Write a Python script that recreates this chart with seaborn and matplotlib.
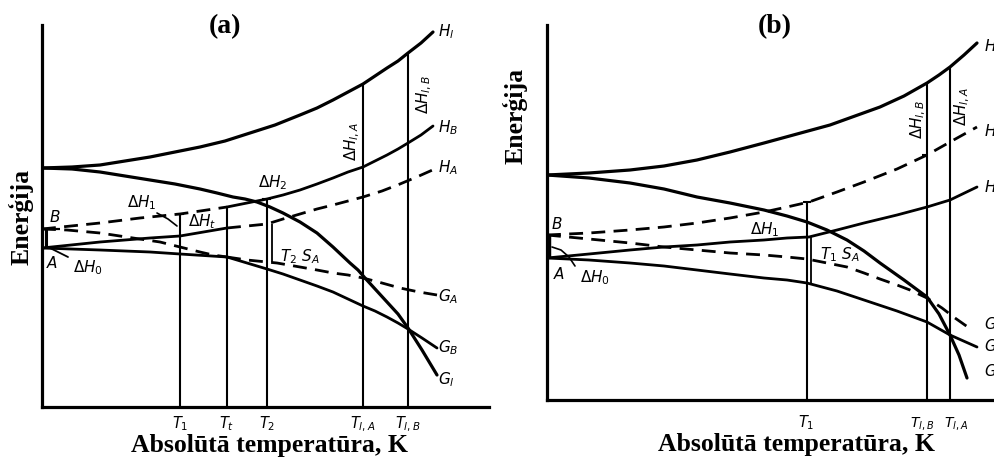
import numpy as np
import matplotlib
matplotlib.use("Agg")
import matplotlib.pyplot as plt
import seaborn as sns

sns.set_theme(style="white")
plt.rcParams["font.family"] = ["DejaVu Sans"]
plt.rcParams["mathtext.fontset"] = "dejavusans"
plt.rcParams["text.color"] = "black"

# ---------------- panel (a): enantiotropic pair A / B ----------------
a_HL_T = [0, 30, 58, 83, 108, 133, 158, 183, 208, 233, 258, 275, 291, 306,
          321, 333, 345, 356, 366, 379, 391]
a_HL_E = [239, 240, 242, 246, 250, 255, 260, 266, 274, 282, 292, 299, 307, 315,
          323, 331, 339, 346, 354, 364, 375]
a_GL_T = [0, 30, 58, 83, 108, 133, 158, 175, 191, 203, 215, 228, 241, 258, 275,
          291, 308, 316, 323, 334, 345, 356, 366, 380, 395]
a_GL_E = [239, 238, 235, 231, 227, 223, 218, 214, 210, 208, 205, 200, 194, 185, 174,
          160, 144, 137, 129, 117, 105, 93, 79, 57, 32]
# enthalpies (solid where the form is stable, dashed where metastable)
a_HB_low_T = [0, 58, 98, 138, 185]
a_HB_low_E = [178, 184, 189, 193, 200]
a_HB_high_T = [185, 205, 225, 241, 258, 275, 291, 306, 321, 333, 345, 356, 366, 379, 391]
a_HB_high_E = [200, 204, 208, 212, 217, 223, 229, 235, 240, 246, 252, 258, 264, 272, 281]
a_HA_low_T = [0, 58, 108, 138, 185]
a_HA_low_E = [159, 165, 169, 171, 179]
a_HA_high_T = [185, 205, 225, 241, 258, 275, 291, 306, 321, 340, 358, 377, 395]
a_HA_high_E = [179, 181, 183, 188, 193, 198, 202, 206, 210, 216, 223, 231, 239]
# free energies
a_GA_low_T = [0, 58, 108, 138, 185]
a_GA_low_E = [159, 157, 155, 153, 150]
a_GA_high_T = [185, 205, 225, 235, 258, 275, 291, 306, 321, 340, 358, 377, 395]
a_GA_high_E = [150, 147, 145, 144, 140, 137, 134, 132, 129, 124, 119, 115, 112]
a_GB_low_T = [0, 25, 58, 91, 118, 138, 158, 171, 185]
a_GB_low_E = [178, 177, 174, 169, 165, 160, 155, 152, 150]
a_GB_high_T = [185, 205, 225, 241, 258, 275, 291, 306, 321, 333, 345, 356, 366, 380, 395]
a_GB_high_E = [150, 144, 138, 133, 127, 121, 115, 108, 101, 96, 90, 84, 78, 69, 59]
# characteristic temperatures
a_temps = [138, 185, 225, 321, 366]
a_temp_labels = [r"$T_1$", r"$T_t$", r"$T_2$", r"$T_{l,A}$", r"$T_{l,B}$"]

# ---------------- panel (b): monotropic pair A / B ----------------
b_HL_T = [0, 42, 83, 117, 150, 183, 217, 250, 283, 308, 333, 357, 380, 392, 403, 417, 430]
b_HL_E = [225, 227, 230, 234, 240, 248, 257, 266, 275, 284, 293, 304, 317, 325, 333, 345, 357]
b_GL_T = [0, 42, 83, 117, 150, 183, 217, 240, 260, 280, 300, 317, 333, 357, 380, 392,
          403, 412, 420]
b_GL_E = [225, 222, 217, 211, 203, 197, 190, 184, 178, 170, 160, 149, 137, 120, 103, 86,
          65, 45, 22]
b_HA_T = [0, 42, 83, 117, 150, 183, 217, 240, 262, 290, 317, 350, 380, 403, 430]
b_HA_E = [142, 146, 150, 153, 155, 158, 160, 162, 163, 170, 177, 185, 193, 200, 213]
b_GA_T = [0, 42, 83, 117, 150, 183, 217, 240, 260, 290, 317, 350, 380, 403, 430]
b_GA_E = [142, 140, 137, 134, 130, 126, 122, 120, 117, 109, 100, 89, 78, 65, 53]
b_HB_T = [0, 42, 83, 117, 150, 183, 217, 240, 262, 290, 317, 350, 380, 403, 430]
b_HB_E = [165, 167, 170, 173, 177, 182, 188, 193, 198, 208, 218, 231, 245, 258, 273]
b_GB_T = [0, 42, 83, 117, 150, 183, 217, 240, 260, 280, 300, 317, 333, 350, 363, 380,
          395, 408, 425]
b_GB_E = [165, 161, 157, 153, 150, 147, 145, 143, 141, 137, 133, 127, 121, 115, 110, 102,
          92, 82, 70]
b_temps = [260, 380, 403]
b_temp_labels = [r"$T_1$", r"$T_{l,B}$", r"$T_{l,A}$"]

W, H = 994, 466
fig = plt.figure(figsize=(W / 100, H / 100), dpi=100)
fig.patch.set_facecolor("white")

LW = 2.0
DASH = (0, (5, 3))
LBL = 11


def curve(ax, T, E, dashed=False, lw=LW):
    sns.lineplot(x=T, y=E, ax=ax, color="black", lw=lw, sort=False,
                 estimator=None, linestyle=DASH if dashed else "-",
                 solid_capstyle="round", solid_joinstyle="round")


def frame(ax, xmax, ymax):
    ax.set_xlim(0, xmax)
    ax.set_ylim(0, ymax)
    ax.set_facecolor("none")
    for s in ["top", "right"]:
        ax.spines[s].set_visible(False)
    for s in ["left", "bottom"]:
        ax.spines[s].set_color("black")
        ax.spines[s].set_linewidth(2.3)
    ax.set_xticks([])
    ax.set_yticks([])
    ax.set_xlabel("")
    ax.set_ylabel("")


def serif_labels(ax, title_xy, xlab_xy, ylab_xy, title):
    ax.text(*title_xy, title, transform=ax.transAxes, ha="center", va="center",
            family="Liberation Serif", fontweight="bold", fontsize=20, clip_on=False)
    ax.text(*xlab_xy, "Absolūtā temperatūra, K", transform=ax.transAxes,
            ha="center", va="center", family="Liberation Serif",
            fontweight="bold", fontsize=18.5, clip_on=False)
    ax.text(*ylab_xy, "Enerģija", transform=ax.transAxes, rotation=90,
            ha="center", va="center", family="Liberation Serif",
            fontweight="bold", fontsize=18.5, clip_on=False)


def lab(ax, x, y, s, ha="left", rot=0, size=LBL):
    ax.text(x, y, s, ha=ha, va="center", fontsize=size, rotation=rot,
            color="black", clip_on=False)


# ---------------- draw panel (a) ----------------
axa = fig.add_axes([42 / W, 59 / H, 447 / W, 382 / H])
curve(axa, a_HL_T, a_HL_E, lw=2.3)
curve(axa, a_GL_T, a_GL_E, lw=2.3)
curve(axa, a_HB_low_T, a_HB_low_E, dashed=True)
curve(axa, a_HB_high_T, a_HB_high_E)
curve(axa, a_HA_low_T, a_HA_low_E)
curve(axa, a_HA_high_T, a_HA_high_E, dashed=True)
curve(axa, a_GA_low_T, a_GA_low_E)
curve(axa, a_GA_high_T, a_GA_high_E, dashed=True)
curve(axa, a_GB_low_T, a_GB_low_E, dashed=True)
curve(axa, a_GB_high_T, a_GB_high_E)

# vertical temperature lines up to the curve they refer to
T1, Tt, T2, TlA, TlB = a_temps
tops_a = [np.interp(T1, a_HB_low_T, a_HB_low_E),
          np.interp(Tt, a_HB_high_T, a_HB_high_E),
          np.interp(T2, a_HB_high_T, a_HB_high_E),
          np.interp(TlA, a_HL_T, a_HL_E),
          np.interp(TlB, a_HL_T, a_HL_E)]
axa.vlines(a_temps, 0, tops_a, color="black", lw=1.5)
for t, s in zip(a_temps, a_temp_labels):
    lab(axa, t, -17, s, ha="center", size=10.5)
# small markers of the enthalpy steps
axa.hlines(tops_a[0], T1 - 4, T1 + 4, color="black", lw=1.5)
axa.hlines(tops_a[2], T2 - 5, T2 + 4, color="black", lw=1.5)
# T2*S_A bracket between H_A and G_A
axa.vlines(T2 + 5, np.interp(T2, a_GA_high_T, a_GA_high_E),
           np.interp(T2, a_HA_high_T, a_HA_high_E), color="black", lw=1.3)
# start of the A and B branches at the energy axis
axa.vlines(4, a_HA_low_E[0], a_HB_low_E[0], color="black", lw=2.2)
axa.hlines(a_HB_low_E[0], 0, 18, color="black", lw=1.6)
axa.plot([6, 26], [160, 150], color="black", lw=1.3)
axa.plot([115, 126, 135], [194, 188, 181], color="black", lw=1.2)

lab(axa, 13, 190, "$B$", ha="center")
lab(axa, 10, 144, "$A$", ha="center")
lab(axa, 31, 139, r"$\Delta H_0$")
lab(axa, 85, 204, r"$\Delta H_1$")
lab(axa, 146, 185, r"$\Delta H_t$")
lab(axa, 216, 224, r"$\Delta H_2$")
lab(axa, 238, 150, r"$T_2\ S_A$")
lab(axa, 310, 265, r"$\Delta H_{l,A}$", ha="center", rot=90)
lab(axa, 382, 312, r"$\Delta H_{l,B}$", ha="center", rot=90)
for y, s in [(375, r"$H_l$"), (279, r"$H_B$"), (239, r"$H_A$"),
             (110, r"$G_A$"), (59, r"$G_B$"), (27, r"$G_l$")]:
    lab(axa, 396, y, s)
frame(axa, 447, 382)
serif_labels(axa, (0.41, 0.995), (0.508, -0.10), (-0.047, 0.497), "(a)")

# ---------------- draw panel (b) ----------------
axb = fig.add_axes([547 / W, 66 / H, 447 / W, 375 / H])
curve(axb, b_HL_T, b_HL_E, lw=2.3)
curve(axb, b_GL_T, b_GL_E, lw=2.3)
curve(axb, b_HA_T, b_HA_E)
curve(axb, b_GA_T, b_GA_E)
curve(axb, b_HB_T, b_HB_E, dashed=True)
curve(axb, b_GB_T, b_GB_E, dashed=True)

bT1, bTlB, bTlA = b_temps
tops_b = [np.interp(bT1, b_HB_T, b_HB_E),
          np.interp(bTlB, b_HL_T, b_HL_E),
          np.interp(bTlA, b_HL_T, b_HL_E)]
axb.vlines(b_temps, 0, tops_b, color="black", lw=1.5)
for t, s, dx, fs in zip(b_temps, b_temp_labels, [-1, -5, 6], [10.5, 10, 10]):
    lab(axb, t + dx, -23, s, ha="center", size=fs)
axb.hlines(tops_b[0], bT1 - 4, bT1 + 4, color="black", lw=1.5)
axb.hlines(np.interp(bTlB, b_HB_T, b_HB_E), bTlB - 5, bTlB + 1, color="black", lw=1.5)
axb.vlines(bT1 + 4, np.interp(bT1, b_GA_T, b_GA_E),
           np.interp(bT1, b_HA_T, b_HA_E), color="black", lw=1.3)
axb.vlines(1.5, b_HA_E[0], b_HB_E[0], color="black", lw=3.2)
axb.plot([5, 14, 22, 28], [153, 150, 143, 134], color="black", lw=1.2)

lab(axb, 10, 176, "$B$", ha="center")
lab(axb, 12, 126, "$A$", ha="center")
lab(axb, 33, 122, r"$\Delta H_0$")
lab(axb, 203, 170, r"$\Delta H_1$")
lab(axb, 273, 145, r"$T_1\ S_A$")
lab(axb, 371, 280, r"$\Delta H_{l,B}$", ha="center", rot=90)
lab(axb, 415, 293, r"$\Delta H_{l,A}$", ha="center", rot=90)
for y, s in [(353, r"$H_l$"), (268, r"$H_B$"), (212, r"$H_A$"),
             (75, r"$G_B$"), (53, r"$G_A$"), (28, r"$G_l$")]:
    lab(axb, 437, y, s)
frame(axb, 447, 375)
serif_labels(axb, (0.51, 0.995), (0.559, -0.12), (-0.072, 0.757), "(b)")

fig.savefig("out.png", dpi=100, facecolor="white")
